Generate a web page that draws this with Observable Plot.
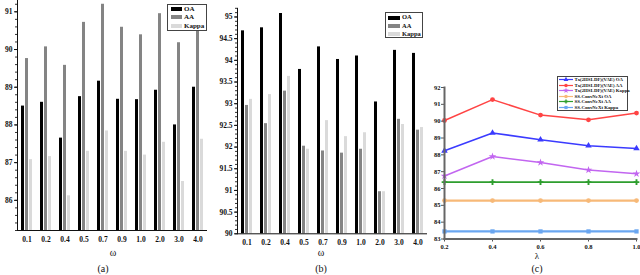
<!DOCTYPE html>
<html><head><meta charset="utf-8">
<script src="https://cdn.jsdelivr.net/npm/d3@7"></script>
<script src="https://cdn.jsdelivr.net/npm/@observablehq/plot@0.6"></script>
<style>
html,body{margin:0;padding:0;background:#fff;}
#root{position:relative;width:640px;height:275px;overflow:hidden;font-family:"Liberation Serif",serif;}
.panel{position:absolute;}
.cap{position:absolute;font-family:"Liberation Serif",serif;font-size:10px;transform:translate(-50%,-50%);white-space:nowrap;color:#111;}
.leg{position:absolute;border:1px solid #444;background:#fff;box-sizing:border-box;font-family:"Liberation Serif",serif;font-weight:bold;color:#111;}
.leg .row{position:absolute;display:flex;align-items:center;white-space:nowrap;}
</style></head><body><div id="root"></div><script>
// ---- data ----
const omegaLabels = ["0.1","0.2","0.4","0.5","0.7","0.9","1.0","2.0","3.0","4.0"];
const metrics = ["OA","AA","Kappa"];
const barColors = ["#000000","#848484","#dadada"];
const aOA    = [88.50,88.60,87.65,88.75,89.16,88.68,88.67,88.92,88.00,89.00];
const aAA    = [89.76,90.07,89.58,90.72,91.20,90.59,90.39,90.95,90.18,90.53];
const aKappa = [87.08,87.16,86.12,87.30,87.84,87.30,87.20,87.54,86.50,87.62];
const bOA    = [94.68,94.75,95.08,93.79,94.31,94.02,94.10,93.04,94.23,94.16];
const bAA    = [92.96,92.54,93.29,92.02,91.91,91.86,91.95,90.97,92.64,92.39];
const bKappa = [93.10,93.21,93.63,91.95,92.61,92.24,92.33,90.97,92.52,92.45];
const lambdas = [0.2,0.4,0.6,0.8,1.0];
const seriesNames = ["Tx(2HSI-DF)(VAE) OA","Tx(2HSI-DF)(VAE) AA","Tx(2HSI-DF)(VAE) Kappa","SS-ConvNeXt OA","SS-ConvNeXt AA","SS-ConvNeXt Kappa"];
const lineColors = ["#3b3bff","#ff4444","#c266f0","#f7b978","#2e9e2e","#6aa6f0"];
const lineSymbols = ["triangle","circle","star","circle","cross","square"];
const lineWidths = [1.6,1.5,1.5,2.2,1.7,2.2];
const cTxOA     = [88.24,89.30,88.90,88.54,88.38];
const cTxAA     = [90.04,91.28,90.36,90.08,90.48];
const cTxKappa  = [86.74,87.90,87.54,87.10,86.88];
const cSSOA     = [85.28,85.28,85.28,85.28,85.28];
const cSSAA     = [86.38,86.38,86.38,86.38,86.38];
const cSSKappa  = [83.45,83.45,83.45,83.45,83.45];

const root = d3.select("#root");

function place(node, left, top) {
  const d = root.append("div").attr("class","panel").style("left",left+"px").style("top",top+"px");
  d.node().appendChild(node);
}

function barPanel(oa, aa, kappa, o) {
  const rows = omegaLabels.flatMap((w,i)=>[
    {w, m:"OA", v:oa[i]}, {w, m:"AA", v:aa[i]}, {w, m:"Kappa", v:kappa[i]}]);
  const y0 = o.yDomain[0];
  return Plot.plot({
    width:o.width, height:o.height,
    marginLeft:o.ml, marginRight:o.mr, marginTop:o.mt, marginBottom:o.mb,
    style:{fontFamily:"Liberation Serif", fontWeight:"bold", fontSize:"7.5px", background:"transparent", color:"#111", overflow:"visible"},
    fx:{domain:omegaLabels, padding:0, axis:"bottom", label:null, tickSize:0, tickPadding:6},
    x:{domain:metrics, paddingInner:o.pi, paddingOuter:o.po, axis:null},
    y:{domain:o.yDomain},
    color:{domain:metrics, range:barColors},
    marks:[
      Plot.barY(rows, {fx:"w", x:"m", y1:y0, y2:"v", fill:"m"}),
      Plot.ruleY([y0], {stroke:"#111", strokeWidth:1}),
      Plot.frame({anchor:"left", facetAnchor:"left", stroke:"#111"}),
      Plot.axisY(o.minor, {tickSize:2, fill:"none", label:null, stroke:"#333"}),
      Plot.axisY(o.major, {tickSize:3, tickPadding:2, label:null, tickFormat:d=>String(d)})
    ]
  });
}

place(barPanel(aOA, aAA, aKappa, {
  width:215, height:250, ml:13, mr:5, mt:0, mb:20,
  yDomain:[85.2,91.3], pi:0.28, po:0.78,
  major:d3.range(86,92), minor:d3.ticks(85.2,91.3,30)
}), 0, 0);

place(barPanel(bOA, bAA, bKappa, {
  width:215, height:250, ml:22, mr:3, mt:7.8, mb:16.7,
  yDomain:[90,95.2], pi:0.36, po:0.94,
  major:d3.ticks(90,95,10), minor:d3.ticks(90,95.2,52)
}), 215, 0);

// line panel
const cVals = [cTxOA,cTxAA,cTxKappa,cSSOA,cSSAA,cSSKappa];
const cRows = seriesNames.flatMap((s,k)=>lambdas.map((l,i)=>({s, l, v:cVals[k][i], sw:lineWidths[k]})));
place(Plot.plot({
  width:215, height:200, marginLeft:19, marginRight:4, marginTop:27, marginBottom:21.5,
  style:{fontFamily:"Liberation Serif", fontWeight:"bold", fontSize:"6.5px", background:"transparent", color:"#111", overflow:"visible"},
  x:{domain:[0.2,1.0]},
  y:{domain:[83,92]},
  color:{domain:seriesNames, range:lineColors},
  symbol:{domain:seriesNames, range:lineSymbols},
  marks:[
    Plot.line(cRows, {x:"l", y:"v", z:"s", stroke:"s", strokeWidth:"sw"}),
    Plot.dot(cRows, {x:"l", y:"v", fill:"s", symbol:"s", r:2.4}),
    Plot.axisX(lambdas, {tickSize:3, tickPadding:2, stroke:"#555", label:null, tickFormat:d3.format(".1f")}),
    Plot.axisY(d3.range(83,93), {tickSize:3, tickPadding:1, stroke:"#555", label:null}),
    Plot.frame({anchor:"left", stroke:"#666", strokeWidth:2}),
    Plot.frame({anchor:"bottom", stroke:"#666", strokeWidth:2})
  ]
}), 425, 60);

// legends for bar panels
function barLegend(left, top, w, h, rowsY, swX, swW, txX, fs) {
  const box = root.append("div").attr("class","leg")
    .style("left",left+"px").style("top",top+"px").style("width",w+"px").style("height",h+"px")
    .style("font-size",fs+"px");
  metrics.forEach((m,i)=>{
    const r = box.append("div").attr("class","row").style("left",swX+"px").style("top",(rowsY[i]-fs/2)+"px").style("height",fs+"px");
    r.append("span").style("display","inline-block").style("width",swW+"px").style("height","4px").style("background",barColors[i]);
    r.append("span").style("margin-left",(txX-swX-swW)+"px").style("line-height",fs+"px").text(m);
  });
}
barLegend(167, 4, 40, 27, [4.3,12.3,21], 3, 11, 16, 7);
barLegend(385, 12, 38, 26, [4.5,12.8,21], 1.5, 12, 16, 6.5);

// legend for line panel
(function(){
  const left=557, top=76, w=71, h=35, fs=4.8;
  const box = root.append("div").attr("class","leg")
    .style("left",left+"px").style("top",top+"px").style("width",w+"px").style("height",h+"px")
    .style("font-size",fs+"px").style("font-weight","normal");
  const symMap = {triangle:d3.symbolTriangle, circle:d3.symbolCircle, star:d3.symbolStar, cross:d3.symbolCross, square:d3.symbolSquare};
  seriesNames.forEach((s,i)=>{
    const r = box.append("div").attr("class","row").style("left","1px").style("top",(2.6+i*5.5-2.5)+"px").style("height","5px");
    const svg = r.append("svg").attr("width",14).attr("height",5);
    svg.append("line").attr("x1",0).attr("x2",14).attr("y1",2.5).attr("y2",2.5).attr("stroke",lineColors[i]).attr("stroke-width",1.2);
    svg.append("path").attr("transform","translate(7,2.5)").attr("d",d3.symbol(symMap[lineSymbols[i]],10)()).attr("fill",lineColors[i]);
    r.append("span").style("margin-left","1.5px").style("line-height","5px").style("font-weight","bold").text(s);
  });
})();

// captions
function cap(text, x, y, fs) {
  root.append("div").attr("class","cap").style("left",x+"px").style("top",y+"px").style("font-size",fs+"px").text(text);
}
cap("ω", 113, 252, 10);
cap("(a)", 103, 268, 10);
cap("ω", 321, 252, 10);
cap("(b)", 321, 268, 10);
cap("λ", 537, 256, 9);
cap("(c)", 537, 268, 10);
</script></body></html>
